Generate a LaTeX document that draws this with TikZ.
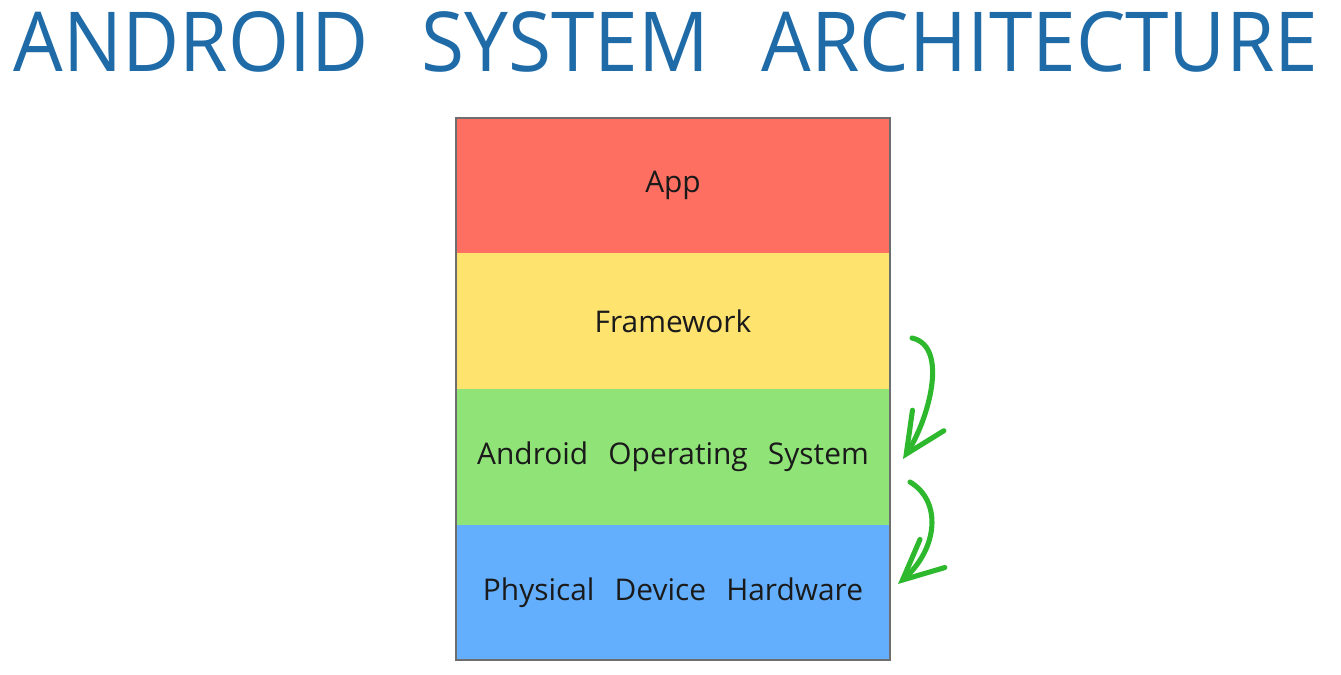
\documentclass[tikz,border=0pt]{standalone}
\usepackage{fontspec}
\setmainfont{Open Sans}[WordSpace=2.6]
\usepackage{tikz}
\usetikzlibrary{arrows.meta,positioning}
\definecolor{Heading}{HTML}{1F6BA8}
\definecolor{AppRed}{HTML}{FF6F61}
\definecolor{FwYellow}{HTML}{FEE36F}
\definecolor{OsGreen}{HTML}{8FE377}
\definecolor{HwBlue}{HTML}{63AFFE}
\definecolor{Edge}{HTML}{6E6E6E}
\definecolor{Ink}{HTML}{1A1A1A}
\definecolor{Pen}{HTML}{2DB82D}
\tikzset{
  layer/.style={rectangle,minimum width=8.68cm,minimum height=2.71cm,outer sep=0pt,inner sep=0pt,font=\fontsize{17}{20}\selectfont,text=Ink},
  frame/.style={draw=Edge,line width=.7pt},
  flow/.style={draw=Pen,line width=2.9pt,line cap=round,line join=round},
  flowtip/.style={flow,-{Straight Barb[length=8mm,width=7.5mm,line cap=round]}},
  heading/.style={text=Heading,inner sep=0pt}
}

\begin{document}
\begin{tikzpicture}[x=1cm,y=1cm]
    \useasboundingbox[fill=white] (0,0) rectangle (26.82,13.48);
    \node[heading] (title) at (13.32,12.64) {\resizebox{26.08cm}{1.2cm}{ANDROID SYSTEM ARCHITECTURE}};
    % the stack
    \node[layer,fill=AppRed] (app) at (13.46,9.765) {App};
    \node[layer,fill=FwYellow,below=0pt of app] (fw) {Framework};
    \node[layer,fill=OsGreen,below=0pt of fw] (os) {Android Operating System};
    \node[layer,fill=HwBlue,below=0pt of os] (hw) {Physical Device Hardware};
    \draw[frame] (app.north west) rectangle (hw.south east);
    % hand drawn arrows
    \coordinate (a1) at (18.24,6.72); \coordinate (b1) at (18.06,4.30);
    \coordinate (a2) at (18.20,3.84); \coordinate (b2) at (17.96,1.80);
    \draw[flowtip] (a1) .. controls (19.0,6.55) and (18.55,5.05) .. (b1);
    \draw[flowtip] (a2) .. controls (18.85,3.45) and (18.75,2.50) .. (b2);
  \end{tikzpicture}
\end{document}
